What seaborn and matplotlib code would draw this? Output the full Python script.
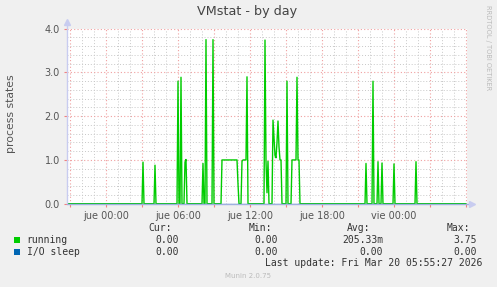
import numpy as np
import pandas as pd
import matplotlib
matplotlib.use("Agg")
import matplotlib.pyplot as plt
from matplotlib.patches import Rectangle
from matplotlib.ticker import MultipleLocator, FixedLocator, FixedFormatter
import seaborn as sns

# ---------------- data ----------------
# 5-minute samples; time in minutes relative to "jue 00:00"
start_minute = -195
n_samples = 400
step_minutes = 5

running_minutes = [185, 245, 360, 375, 395, 400, 485, 500, 535,
                   580, 585, 590, 595, 600, 605, 610, 615, 620, 625, 630, 635, 640, 645, 650, 655, 660,
                   680, 685, 690, 695, 700, 705,
                   795, 800, 805, 810,
                   835, 840, 845, 850, 855, 860, 865, 870, 875,
                   905,
                   930, 935, 940, 945, 950, 955, 960, 965,
                   1300, 1335, 1360, 1380, 1440, 1550]
running_values = [0.95, 0.88, 2.80, 2.89, 0.95, 1.01, 0.92, 3.75, 3.75,
                  1.0, 1.0, 1.0, 1.0, 1.0, 1.0, 1.0, 1.0, 1.0, 1.0, 1.0, 1.0, 1.0, 1.0, 1.0, 1.0, 0.45,
                  0.97, 1.0, 1.0, 1.0, 1.0, 2.90,
                  3.74, 0.96, 0.25, 0.97,
                  1.91, 1.5, 1.1, 1.05, 1.4, 1.89, 1.3, 1.0, 1.0,
                  2.80,
                  1.0, 1.0, 1.0, 1.0, 1.0, 2.89, 1.0, 1.0,
                  0.92, 2.80, 0.96, 0.93, 0.91, 0.96]
io_sleep_value = 0.0

x_tick_hours = [0, 6, 12, 18, 24]
x_tick_labels = ["jue 00:00", "jue 06:00", "jue 12:00", "jue 18:00", "vie 00:00"]
y_ticks = [0, 1, 2, 3, 4]
y_tick_labels = ["0.0", "1.0", "2.0", "3.0", "4.0"]

legend_names = ["running", "I/O sleep"]
legend_colors = ["#00CC00", "#0066B3"]
legend_cur = ["0.00", "0.00"]
legend_min = ["0.00", "0.00"]
legend_avg = ["205.33m", "0.00"]
legend_max = ["3.75", "0.00"]

# build series
minutes = start_minute + step_minutes * np.arange(n_samples)
running = np.zeros(n_samples)
for m, v in zip(running_minutes, running_values):
    running[(m - start_minute) // step_minutes] = v
df = pd.DataFrame({"hours": minutes / 60.0,
                   "running": running,
                   "io_sleep": np.full(n_samples, io_sleep_value)})

# ---------------- figure ----------------
W, H = 497, 287
sns.set_style("white")
plt.rcParams["font.family"] = ["DejaVu Sans"]
fig = plt.figure(figsize=(W / 100, H / 100), dpi=100, facecolor="#F0F0F0")

def fx(px):
    return px / W

def fy(py):
    return 1 - py / H

left, right, top, bottom = 67, 467, 28.7, 203.7
ax = fig.add_axes([fx(left), fy(bottom), (right - left) / W, (bottom - top) / H])
ax.set_facecolor("white")

sns.lineplot(data=df, x="hours", y="running", ax=ax, color=legend_colors[0],
             linewidth=1.0, estimator=None, zorder=3)
sns.lineplot(data=df, x="hours", y="io_sleep", ax=ax, color=legend_colors[1],
             linewidth=1.0, estimator=None, zorder=4, alpha=0.5)

x0 = (left - 106) / 12.0
x1 = (right - 106) / 12.0
ax.set_xlim(x0, x1)
ax.set_ylim(0, 4)
ax.set_xlabel("")
ax.set_ylabel("")

# grids
ax.xaxis.set_major_locator(MultipleLocator(3))
ax.xaxis.set_minor_locator(MultipleLocator(1))
ax.yaxis.set_major_locator(FixedLocator(y_ticks))
ax.yaxis.set_minor_locator(MultipleLocator(0.2))
ax.grid(which="minor", color="#C8C8C8", linestyle=(0, (1, 2)), linewidth=0.7)
ax.grid(which="major", color="#F0A0A0", linestyle=(0, (1, 2)), linewidth=0.8)
ax.set_axisbelow(True)

major_pos = np.arange(-3, 31, 3)
ax.set_xticks(major_pos)
ax.set_xticklabels([x_tick_labels[x_tick_hours.index(p)] if p in x_tick_hours else "" for p in major_pos])
ax.set_yticks(y_ticks)
ax.set_yticklabels(y_tick_labels)
ax.tick_params(axis="x", which="major", length=2.5, color="#F08080", width=0.8,
               labelsize=7, labelcolor="#555555", pad=2.5, direction="out", bottom=True)
ax.tick_params(axis="y", which="major", length=2, color="#F08080", width=0.8,
               labelsize=7, labelcolor="#555555", pad=3, direction="out", left=True)
ax.tick_params(which="minor", length=0)

for s in ax.spines.values():
    s.set_visible(False)

# axis lines with arrows
axis_col = "#C8CCF0"
ax.plot([0, 0], [0, (bottom - 22) / (bottom - top)], transform=ax.transAxes,
        color=axis_col, lw=1, clip_on=False, zorder=5)
ax.plot([0, (472 - left) / (right - left)], [0, 0], transform=ax.transAxes,
        color="#A0B0E0", lw=1, clip_on=False, zorder=5)
ax.plot([0], [(bottom - 22) / (bottom - top)], transform=ax.transAxes, marker="^",
        color=axis_col, markersize=4, clip_on=False, zorder=6)
ax.plot([(472 - left) / (right - left)], [0], transform=ax.transAxes, marker=">",
        color=axis_col, markersize=4, clip_on=False, zorder=6)

# texts
fig.text(fx(247), fy(12), "VMstat - by day", ha="center", va="center",
         fontsize=9.2, color="#444444")
fig.text(fx(11), fy(114), "process states", ha="center", va="center",
         rotation=90, fontsize=7.8, color="#555555")
fig.text(fx(488), fy(5), "RRDTOOL / TOBI OETIKER", ha="center", va="top",
         rotation=270, fontsize=4.8, color="#BBBBBB")

mono = "DejaVu Sans Mono"
tcol = "#333333"
hdr_y = 228.3
for label, xr in zip(["Cur:", "Min:", "Avg:", "Max:"], [172.3, 271.7, 370.7, 470]):
    fig.text(fx(xr), fy(hdr_y), label, ha="right", va="center", family=mono,
             fontsize=7, color=tcol)

row_y = [240, 251.7]
for i in range(2):
    y = row_y[i]
    fig.patches.append(Rectangle((fx(14), fy(y + 3)), 6 / W, 6 / H,
                                 transform=fig.transFigure, facecolor=legend_colors[i],
                                 edgecolor="none"))
    fig.text(fx(26.7), fy(y), legend_names[i], ha="left", va="center", family=mono,
             fontsize=7, color=tcol)
    for val, xr in zip([legend_cur[i], legend_min[i], legend_avg[i], legend_max[i]],
                       [179, 278, 383.3, 476.7]):
        fig.text(fx(xr), fy(y), val, ha="right", va="center", family=mono,
                 fontsize=7, color=tcol)

fig.text(fx(482.7), fy(263.3), "Last update: Fri Mar 20 05:55:27 2026", ha="right",
         va="center", family=mono, fontsize=7, color=tcol)
fig.text(fx(247.7), fy(276.3), "Munin 2.0.75", ha="center", va="center",
         fontsize=5, color="#BBBBBB")

fig.savefig("out.png", dpi=100, facecolor=fig.get_facecolor())
